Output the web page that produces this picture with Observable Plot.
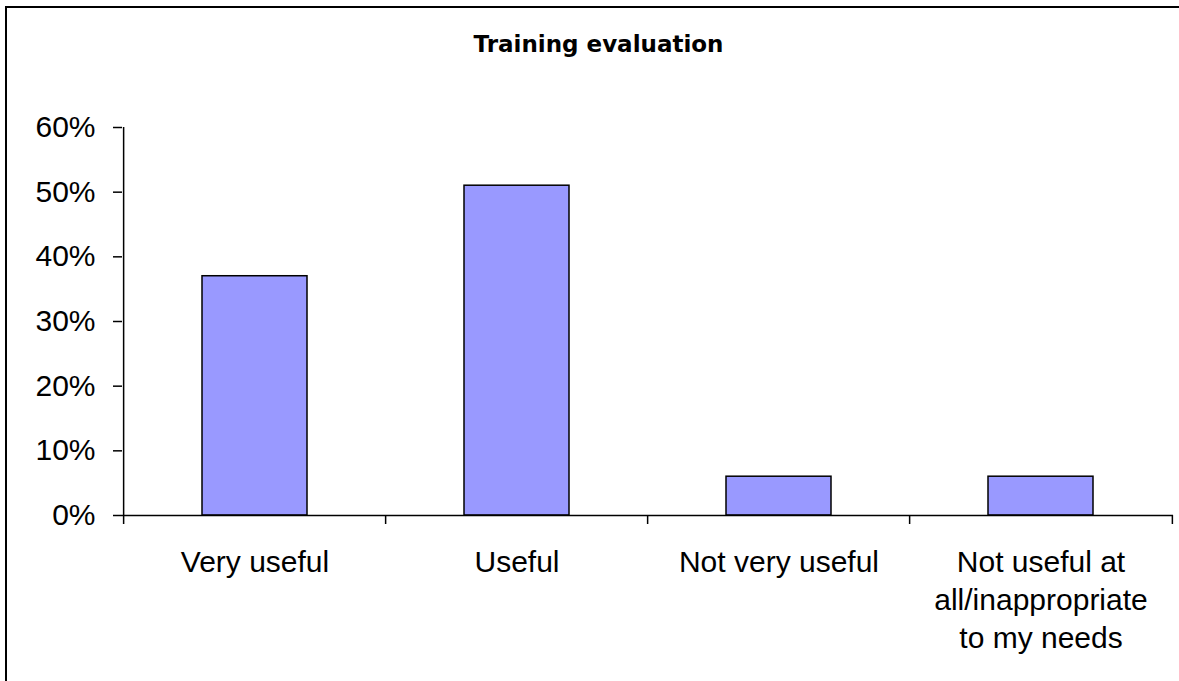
<!DOCTYPE html>
<html>
<head>
<meta charset="utf-8">
<script src="https://cdn.jsdelivr.net/npm/d3@7"></script>
<script src="https://cdn.jsdelivr.net/npm/@observablehq/plot@0.6"></script>
<style>
  html, body { margin: 0; padding: 0; background: #fff; width: 1179px; height: 681px; overflow: hidden; }
  #wrap { position: relative; width: 1179px; height: 681px; overflow: hidden; background: #fff; }
  #bleft { position: absolute; left: 5px; top: 6px; width: 2px; height: 675px; background: #000; }
  #btop { position: absolute; left: 5px; top: 6px; width: 1174px; height: 2px; background: #000; }
  #title { position: absolute; left: 6px; top: 31px; width: 1185px; text-align: center;
           font-family: "DejaVu Sans", Verdana, sans-serif; font-weight: bold; font-size: 23px; line-height: 27px; color: #000; }
  #chart { position: absolute; left: 0; top: 0; }
</style>
</head>
<body>
<div id="wrap">
  <div id="bleft"></div>
  <div id="btop"></div>
  <div id="title">Training evaluation</div>
  <div id="chart"></div>
</div>
<script>
const categories = ["Very useful", "Useful", "Not very useful", "Not useful at\nall/inappropriate\nto my needs"];
const values = [0.37, 0.51, 0.06, 0.06];
const yTicks = [0, 0.1, 0.2, 0.3, 0.4, 0.5, 0.6];

const data = categories.map((c, i) => ({category: c, value: values[i]}));

const W = 1179, H = 681, mL = 122, mR = 6, mT = 127, mB = 166;
const step = (W - mL - mR) / categories.length;

const chart = Plot.plot({
  width: W,
  height: H,
  marginLeft: mL,
  marginRight: mR,
  marginTop: mT,
  marginBottom: mB,
  style: {fontFamily: "'Liberation Sans', Arial, sans-serif", fontSize: "30px", background: "transparent", color: "#000"},
  x: {domain: categories, paddingInner: 0.6, paddingOuter: 0.3, axis: null},
  y: {domain: [0, 0.6], axis: null},
  marks: [
    Plot.barY(data, {x: "category", y: "value", fill: "#9999FF", stroke: "#000", strokeWidth: 1.5}),
    Plot.ruleY([0], {stroke: "#000", strokeWidth: 1.5}),
    Plot.ruleX([categories[0]], {dx: -step / 2, y1: 0.6, y2: 0, insetBottom: -9, stroke: "#000", strokeWidth: 1.5}),
    Plot.ruleX(categories, {dx: -step / 2, filter: (d, i) => i > 0, y1: 0, y2: 0, insetBottom: -9, stroke: "#000", strokeWidth: 1.5}),
    Plot.ruleX(categories, {dx: step / 2, filter: (d, i) => i === categories.length - 1, y1: 0, y2: 0, insetBottom: -9, stroke: "#000", strokeWidth: 1.5}),
    Plot.axisY({ticks: yTicks, tickFormat: d3.format(".0%"), tickSize: 9, tickPadding: 18, fontSize: 30, label: null, strokeWidth: 1.5}),
    Plot.axisX({tickSize: 0, tickPadding: 29, lineHeight: 1.27, fontSize: 30, label: null})
  ]
});
document.getElementById("chart").appendChild(chart);
</script>
</body>
</html>
